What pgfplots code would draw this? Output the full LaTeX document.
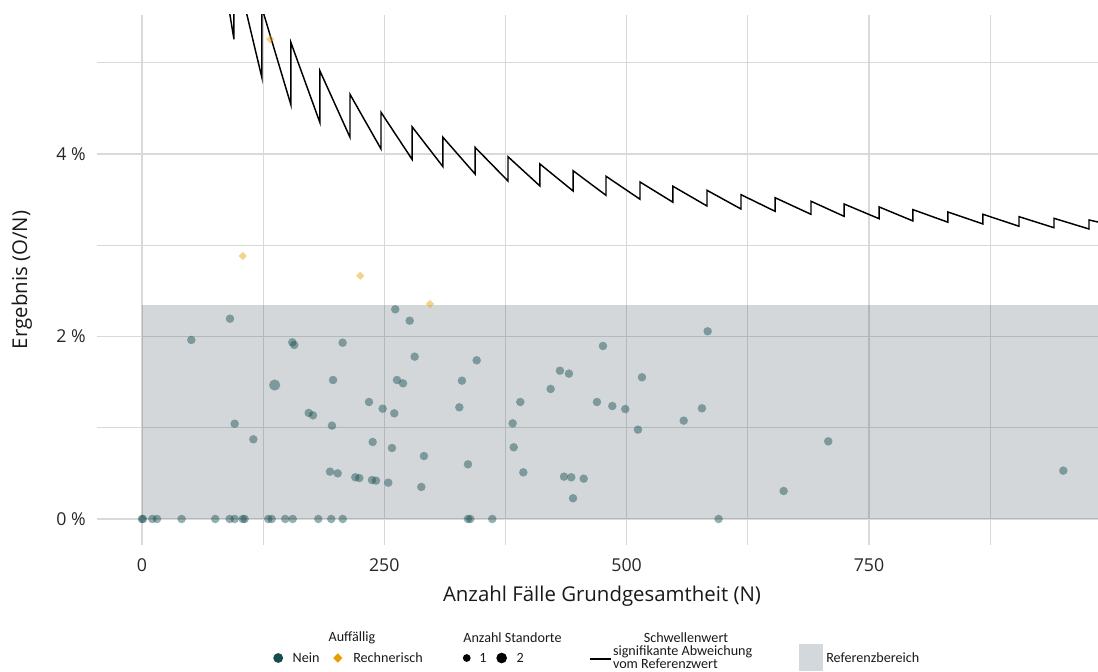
\documentclass[border=0pt]{standalone}
\usepackage{pgfplots}
\pgfplotsset{compat=1.18}
\usepackage{fontspec}
\setmainfont{Open Sans}
\newfontfamily\legendfont{Carlito}
\definecolor{qteal}{RGB}{22,78,78}
\definecolor{qorange}{RGB}{230,159,0}
\definecolor{qband}{RGB}{20,45,60}
\definecolor{qgrid}{RGB}{217,217,217}
\definecolor{qlegband}{RGB}{211,216,220}

\pgfplotstableread{
x y
0 0
1 0
10.7 0
15.5 0
40.9 0
75.6 0
90.5 0
95.6 0
103.9 0
105.9 0
130.3 0
133.8 0
147.8 0
155.5 0
181.9 0
195.3 0
207.1 0
336.3 0
338.7 0
361.4 0
594.9 0
90.8 2.195
50.9 1.962
155.1 1.936
157.1 1.907
207.0 1.932
197.1 1.523
172.0 1.162
176.4 1.136
196.0 1.023
95.6 1.044
114.9 0.873
194.0 0.519
201.9 0.500
220.1 0.457
224.2 0.449
237.3 0.427
241.4 0.420
254.1 0.398
288.2 0.351
290.9 0.690
257.9 0.778
238.0 0.844
248.3 1.209
260.3 1.158
234.2 1.282
263.1 1.523
269.3 1.487
281.3 1.779
261.3 2.298
276.2 2.173
345.3 1.739
475.6 1.896
431.2 1.625
440.5 1.593
330.1 1.516
327.4 1.224
390.3 1.282
421.6 1.425
469.4 1.282
485.2 1.238
382.4 1.048
336.3 0.599
383.5 0.786
393.4 0.511
435.4 0.464
442.9 0.457
455.7 0.442
444.7 0.227
583.6 2.057
515.8 1.553
498.6 1.205
511.7 0.979
558.9 1.078
577.7 1.213
708.0 0.851
662.0 0.307
950.5 0.530
}\neinone

\pgfplotstableread{
x y
136.9 1.468
}\neintwo

\pgfplotstableread{
x y
103.9 2.882
225.2 2.666
297.1 2.356
132.4 5.257
}\rechnerisch

\pgfplotstableread{
x y
88.2 5.69
94.9 5.257
94.9 6.0
104.6 5.69
123.8 4.833
123.8 5.60
153.7 4.537
153.7 5.22
183.6 4.343
183.6 4.91
214.6 4.183
214.6 4.654
246.6 4.055
246.6 4.457
278.6 3.942
278.6 4.299
310.5 3.861
310.5 4.183
343.6 3.781
343.6 4.073
377.6 3.704
377.6 3.970
410.6 3.649
410.6 3.890
444.7 3.595
444.7 3.817
478.7 3.547
478.7 3.756
513.8 3.504
513.8 3.693
547.8 3.471
547.8 3.646
582.9 3.430
582.9 3.602
618.0 3.397
618.0 3.554
653.1 3.372
653.1 3.521
690.2 3.339
690.2 3.482
724.3 3.317
724.3 3.452
760.4 3.291
760.4 3.420
795.4 3.266
795.4 3.390
831.5 3.252
831.5 3.364
867.6 3.233
867.6 3.339
904.8 3.208
904.8 3.313
940.9 3.192
940.9 3.295
977.0 3.178
977.0 3.277
992.0 3.24
}\schwelle

\begin{document}
\begin{tikzpicture}
\useasboundingbox (-72.75pt,-94.5pt) rectangle (750.75pt,408.75pt);
\begin{axis}[
  at={(0pt,0pt)}, anchor=south west,
  scale only axis, width=750.75pt, height=397.5pt,
  xmin=-46.4, xmax=986.3, ymin=-0.285, ymax=5.523,
  axis line style={draw=none},
  tick style={draw=none},
  xtick={0,250,500,750},
  minor xtick={125,375,625,875},
  ytick={0,2,4},
  yticklabels={0 \%,2 \%,4 \%},
  minor ytick={1,3,5},
  grid=both,
  major grid style={qgrid, line width=1.1pt},
  minor grid style={qgrid, line width=0.8pt},
  /pgf/number format/assume math mode=true,
  ticklabel style={font=\fontsize{13.3}{15}\selectfont, text=black!85},
  xticklabel style={yshift=-6.5pt},
  yticklabel style={xshift=-5pt},
  xlabel={Anzahl Fälle Grundgesamtheit (N)},
  ylabel={Ergebnis (O/N)},
  label style={font=\fontsize{15.3}{18}\selectfont, text=black!90},
  xlabel style={at={(axis description cs:0.5045,-0.0975)}, anchor=center},
  ylabel style={at={(axis description cs:-0.0752,0.5)}, anchor=center},
]
\addplot[draw=none, fill=qband, fill opacity=0.19]
  coordinates {(0,0) (1000,0) (1000,2.345) (0,2.345)} \closedcycle;
\addplot[only marks, mark=*, mark size=3.2pt, mark options={draw opacity=0, fill=qteal, fill opacity=0.45}]
  table[x=x,y=y] {\neinone};
\addplot[only marks, mark=*, mark size=4.2pt, mark options={draw opacity=0, fill=qteal, fill opacity=0.45}]
  table[x=x,y=y] {\neintwo};
\addplot[only marks, mark=square*, mark size=2.2pt, mark options={rotate=45, draw opacity=0, fill=qorange, fill opacity=0.45}]
  table[x=x,y=y] {\rechnerisch};
\addplot[black, line width=1.1pt, line join=miter, mark=none]
  table[x=x,y=y] {\schwelle};
\end{axis}
% legend
\begin{scope}[font=\legendfont\fontsize{10.6}{12.5}\selectfont, text=black!90]
\node[anchor=center, inner sep=0] at (191.25pt,-69.75pt) {Auffällig};
\fill[qteal] (135.9pt,-84.75pt) circle (3.7pt);
\node[anchor=west, inner sep=0] at (146.6pt,-84.75pt) {Nein};
\fill[qorange] (180.6pt,-81.2pt) -- (184.1pt,-84.75pt) -- (180.6pt,-88.3pt) -- (177.1pt,-84.75pt) -- cycle;
\node[anchor=west, inner sep=0] at (192pt,-84.75pt) {Rechnerisch};
\node[anchor=center, inner sep=0] at (311.6pt,-69.75pt) {Anzahl Standorte};
\fill[black] (277.3pt,-84.75pt) circle (2.9pt);
\node[anchor=west, inner sep=0] at (286.5pt,-84.75pt) {1};
\fill[black] (303.5pt,-84.75pt) circle (4.0pt);
\node[anchor=west, inner sep=0] at (314.6pt,-84.75pt) {2};
\node[anchor=center, inner sep=0] at (441.75pt,-69.75pt) {Schwellenwert};
\draw[black, line width=1.1pt] (369.75pt,-85.5pt) -- (385.5pt,-85.5pt);
\node[anchor=west, inner sep=0, align=left, font=\legendfont\fontsize{10.6}{10}\selectfont] at (386.8pt,-84pt) {signifikante Abweichung\\vom Referenzwert};
\fill[qlegband] (526.5pt,-74.25pt) rectangle (544.5pt,-94.5pt);
\node[anchor=west, inner sep=0] at (546.75pt,-84.75pt) {Referenzbereich};
\end{scope}
\end{tikzpicture}
\end{document}
